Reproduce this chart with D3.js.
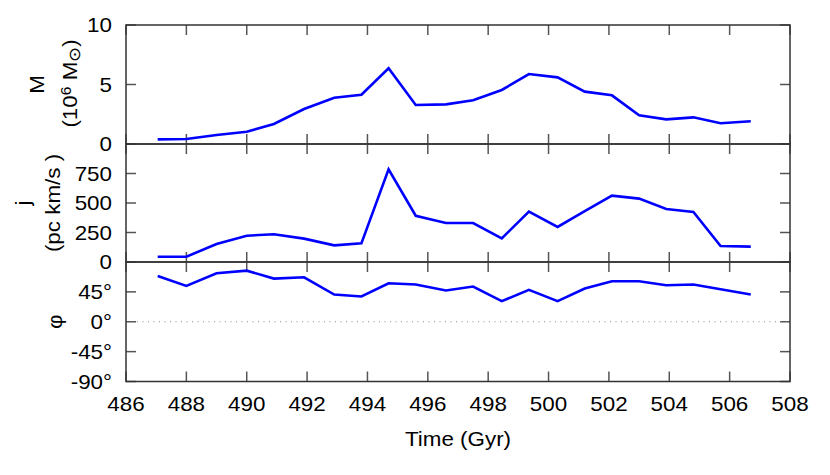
<!DOCTYPE html>
<html>
<head>
<meta charset="utf-8">
<script src="https://cdn.jsdelivr.net/npm/d3@7"></script>
<style>
body { margin: 0; background: #fff; }
text { font-family: "Liberation Sans", Arial, sans-serif; fill: #000; }
</style>
</head>
<body>
<div id="chart"></div>
<script>
// time of each snapshot (Gyr)
var times = [487.05, 488.0, 489.0, 490.0, 490.9, 491.9, 492.9, 493.8, 494.7, 495.6, 496.6,
	497.5, 498.45, 499.35, 500.3, 501.2, 502.1, 503.0, 503.9, 504.8, 505.7, 506.7];
// mass, 10^6 Msun
var massVals = [0.39, 0.42, 0.76, 1.03, 1.68, 2.94, 3.89, 4.14, 6.36, 3.28, 3.33,
	3.67, 4.54, 5.88, 5.60, 4.40, 4.09, 2.41, 2.07, 2.24, 1.74, 1.91];
// specific angular momentum, pc km/s
var jVals = [45, 45, 152, 223, 235, 198, 141, 158, 785, 392, 330,
	330, 200, 427, 297, 432, 562, 537, 449, 424, 136, 130];
// angle, degrees
var phiVals = [69, 54, 73, 77, 65, 67, 41, 38, 58, 56, 47,
	53, 31, 48, 31, 50, 61, 61, 55, 56, 49, 41];

var xTicks = d3.range(486, 509, 2);
var mTicks = [0, 5, 10];
var jTicks = [0, 250, 500, 750];
var phiTicks = [-90, -45, 0, 45];

var width = 830, height = 475;
var left = 126, right = 790;
var stretch = 1.12; // text in the original is a bit wide

var svg = d3.select('#chart').append('svg')
	.attr('width', width).attr('height', height);

function addText(px, py, anchor, rot) {
	return svg.append('text')
		.attr('transform', 'translate(' + px + ',' + py + ')' + (rot ? ' rotate(-90)' : '') + ' scale(' + stretch + ',1)')
		.attr('text-anchor', anchor)
		.style('font-size', '20px');
}

var x = d3.scaleLinear().domain([486, 508]).range([left, right]);

var panels = [
	{vals: massVals, domain: [0, 10], top: 25, bottom: 144, ticks: mTicks, fmt: function(d) {return d;}},
	{vals: jVals, domain: [0, 1000], top: 144, bottom: 262, ticks: jTicks, fmt: function(d) {return d;}},
	{vals: phiVals, domain: [-90, 90], top: 262, bottom: 381.5, ticks: phiTicks, fmt: function(d) {return d + '°';}}
];

var tickColor = '#555', tickLen = 10;

panels.forEach(function(p, k) {
	var y = d3.scaleLinear().domain(p.domain).range([p.bottom, p.top]);
	p.y = y;
	var g = svg.append('g');

	// x ticks, inward, top and bottom
	xTicks.forEach(function(t) {
		g.append('line').attr('x1', x(t)).attr('x2', x(t))
			.attr('y1', p.top).attr('y2', p.top + tickLen)
			.attr('stroke', tickColor).attr('stroke-width', 1.5);
		g.append('line').attr('x1', x(t)).attr('x2', x(t))
			.attr('y1', p.bottom).attr('y2', p.bottom - tickLen)
			.attr('stroke', tickColor).attr('stroke-width', 1.5);
	});
	// y ticks, left and right
	p.ticks.forEach(function(t) {
		g.append('line').attr('x1', left).attr('x2', left + tickLen)
			.attr('y1', y(t)).attr('y2', y(t))
			.attr('stroke', tickColor).attr('stroke-width', 1.5);
		g.append('line').attr('x1', right).attr('x2', right - tickLen)
			.attr('y1', y(t)).attr('y2', y(t))
			.attr('stroke', tickColor).attr('stroke-width', 1.5);
		addText(left - 14, y(t), 'end').attr('dy', '0.36em').text(p.fmt(t));
	});

	if (k == 2) {
		g.append('line').attr('x1', left).attr('x2', right)
			.attr('y1', y(0)).attr('y2', y(0))
			.attr('stroke', '#888').attr('stroke-width', 1)
			.attr('stroke-dasharray', '1,4.5');
	}

	var line = d3.line()
		.x(function(d, i) {return x(times[i]);})
		.y(function(d) {return y(d);});
	g.append('path').datum(p.vals)
		.attr('d', line)
		.attr('fill', 'none')
		.attr('stroke', '#0000ff')
		.attr('stroke-width', 2.6)
		.attr('stroke-linejoin', 'miter');

	g.append('rect').attr('x', left).attr('y', p.top)
		.attr('width', right - left).attr('height', p.bottom - p.top)
		.attr('fill', 'none').attr('stroke', '#333').attr('stroke-width', 1.5);
});

// x tick labels
xTicks.forEach(function(t) {
	addText(x(t), 411, 'middle').text(t);
});
addText((left + right) / 2, 446, 'middle').text('Time (Gyr)');

// y axis titles
var pm = panels[0], pj = panels[1], pp = panels[2];
addText(44, (pm.top + pm.bottom) / 2, 'middle', true).text('M');
var t2 = addText(77, (pm.top + pm.bottom) / 2 - 1, 'middle', true);
t2.append('tspan').text('(10');
t2.append('tspan').attr('baseline-shift', '40%').style('font-size', '14px').text('6');
t2.append('tspan').text(' M');
t2.append('tspan').attr('baseline-shift', '-20%').style('font-size', '16px').text('⊙');
t2.append('tspan').text(')');
addText(30, (pj.top + pj.bottom) / 2, 'middle', true).text('j');
addText(60, (pj.top + pj.bottom) / 2, 'middle', true).text('(pc km/s )');
addText(62, pp.y(0), 'middle', true).text('φ');
</script>
</body>
</html>
